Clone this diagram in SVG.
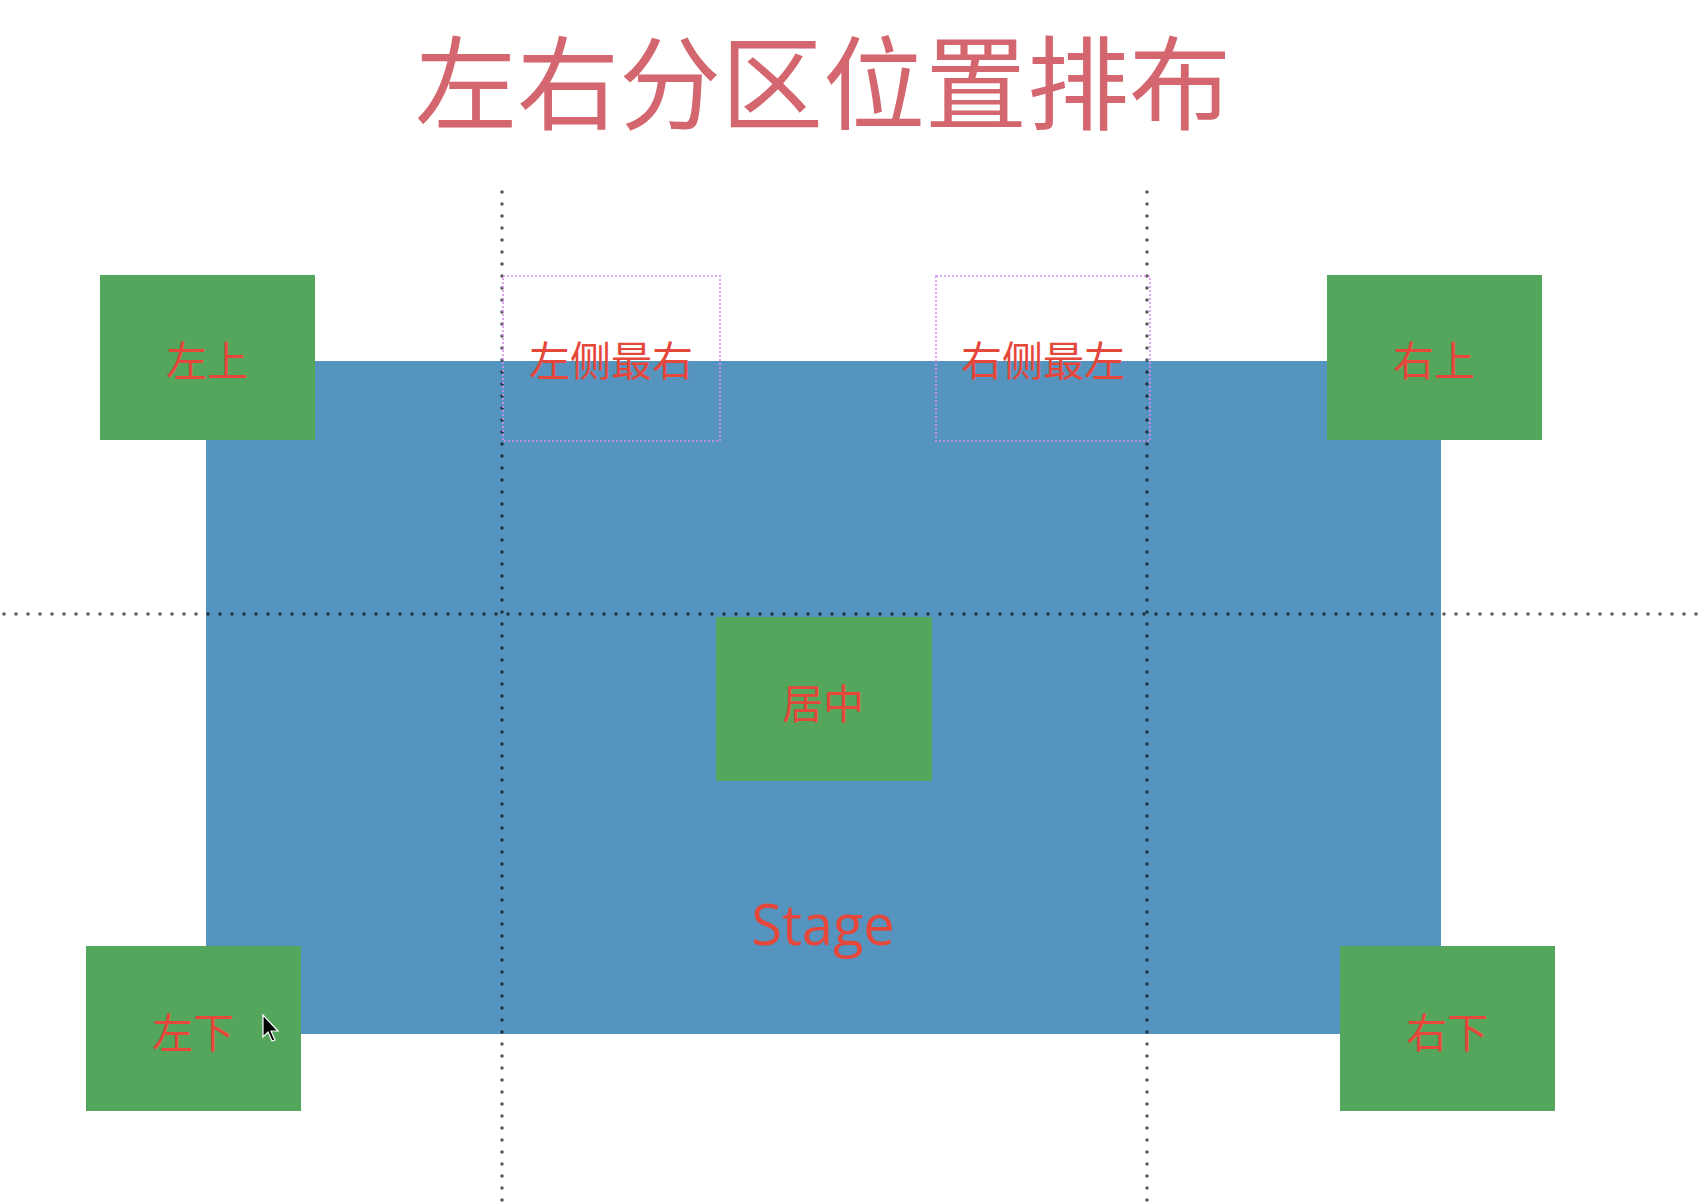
<svg xmlns="http://www.w3.org/2000/svg" width="1703" height="1203" viewBox="0 0 1703 1203">
<style>
.title{font-family:"Noto Sans CJK SC","Noto Sans",sans-serif;font-size:102px;fill:#d4666f;font-weight:400}
.lbl{font-family:"Noto Sans CJK SC","Noto Sans",sans-serif;font-size:41px;fill:#e5473b;text-anchor:middle;dominant-baseline:central;font-weight:400}
.box{fill:#53a65c}
.stage{fill:#5594bf}
.guide{stroke:#000;stroke-opacity:0.65;stroke-width:3.5;stroke-dasharray:0 12;stroke-linecap:round;fill:none}
.sel{fill:none;stroke:#d98ef0;stroke-width:1.6;stroke-dasharray:2 2}
.stagetxt{font-family:"Open Sans","Noto Sans",sans-serif;font-size:56px;fill:#e5473b;text-anchor:middle;font-weight:500}
</style>
<rect width="1703" height="1203" fill="#ffffff"/>
<text class="title" x="823" y="122" text-anchor="middle">左右分区位置排布</text>
<g id="stage">
<rect class="stage" x="206" y="361" width="1235" height="673"/>
<text class="stagetxt" x="823" y="945">Stage</text>
</g>
<g id="connectors">
<line class="guide" x1="502" y1="192" x2="502" y2="1203"/>
<line class="guide" x1="1147" y1="192" x2="1147" y2="1203"/>
<line class="guide" x1="4" y1="614" x2="1703" y2="614"/>
</g>
<g id="left-top">
<rect class="box" x="100" y="275" width="215" height="165"/>
<text class="lbl" x="207" y="358">左上</text>
</g>
<g id="right-top">
<rect class="box" x="1327" y="275" width="215" height="165"/>
<text class="lbl" x="1434" y="358">右上</text>
</g>
<g id="left-bottom">
<rect class="box" x="86" y="946" width="215" height="165"/>
<text class="lbl" x="193" y="1030">左下</text>
</g>
<g id="right-bottom">
<rect class="box" x="1340" y="946" width="215" height="165"/>
<text class="lbl" x="1447" y="1030">右下</text>
</g>
<g id="center">
<rect class="box" x="716" y="617" width="216" height="164"/>
<text class="lbl" x="823" y="701">居中</text>
</g>
<g id="left-rightmost">
<rect class="sel" x="503" y="276" width="217" height="165"/>
<text class="lbl" x="611" y="358">左侧最右</text>
</g>
<g id="right-leftmost">
<rect class="sel" x="936" y="276" width="214" height="165"/>
<text class="lbl" x="1043" y="358">右侧最左</text>
</g>
<g id="cursor">
<path d="M263 1015 L263 1037 L268 1032 L272 1041 L275 1040 L271 1031 L278 1031 Z" fill="#000" stroke="#fff" stroke-width="1.2"/>
</g>
</svg>
